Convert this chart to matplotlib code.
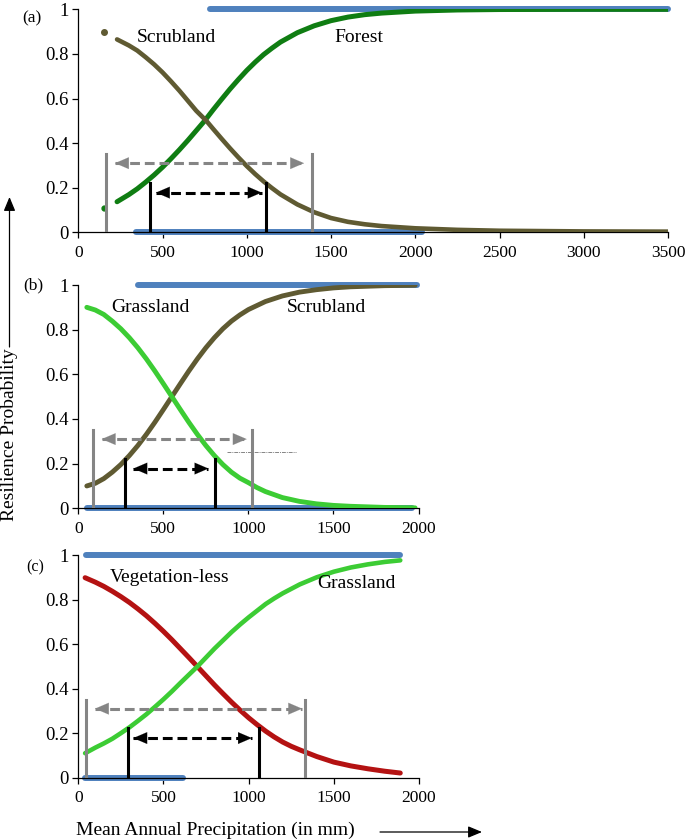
#!/usr/bin/env python3
"""Resilience probability vs mean annual precipitation, three stacked panels."""
import matplotlib
matplotlib.use("Agg")
import matplotlib.pyplot as plt

plt.rcParams["font.family"] = ["Liberation Serif", "DejaVu Serif"]

# ---- panel (a): scrubland vs forest ----
a_forest_x = [230, 300, 350, 400, 450, 500, 550, 600, 650, 700, 750, 800, 850, 900, 950,
              1000, 1050, 1100, 1150, 1200, 1300, 1400, 1500, 1600, 1700, 1800, 2000,
              2250, 2500, 3000, 3500]
a_forest_y = [0.137, 0.169, 0.195, 0.225, 0.257, 0.292, 0.330, 0.370, 0.412, 0.456, 0.50,
              0.549, 0.596, 0.642, 0.685, 0.726, 0.763, 0.797, 0.826, 0.853, 0.895, 0.926,
              0.949, 0.965, 0.976, 0.983, 0.992, 0.997, 0.999, 1.0, 1.0]
a_scrub_x = [230, 300, 350, 400, 450, 500, 550, 600, 650, 700, 760, 800, 850, 900, 950,
             1000, 1050, 1100, 1150, 1200, 1300, 1400, 1500, 1600, 1700, 1800, 2000,
             2250, 2500, 3000, 3500]
a_scrub_y = [0.865, 0.838, 0.815, 0.785, 0.753, 0.717, 0.677, 0.635, 0.590, 0.545, 0.50,
             0.464, 0.420, 0.377, 0.336, 0.297, 0.261, 0.228, 0.198, 0.170, 0.125, 0.090,
             0.064, 0.047, 0.036, 0.028, 0.018, 0.011, 0.007, 0.004, 0.003]
a_forest_dot = (150, 0.107)
a_scrub_dot = (154, 0.897)
a_obs_top = [780, 3500]
a_obs_bot = [340, 2040]
a_grey = [164, 1389]
a_black = [425, 1112]
a_grey_arrow = [218, 1340]
a_black_arrow = [461, 1088]

# ---- panel (b): grassland vs scrubland ----
b_grass_x = [50, 100, 150, 200, 250, 300, 350, 400, 450, 500, 550, 600, 650, 700, 750,
             800, 850, 900, 950, 1000, 1050, 1100, 1200, 1300, 1400, 1500, 1600, 1800, 1980]
b_grass_y = [0.90, 0.888, 0.868, 0.838, 0.804, 0.764, 0.719, 0.669, 0.615, 0.558, 0.50,
             0.442, 0.385, 0.331, 0.281, 0.236, 0.196, 0.162, 0.135, 0.115, 0.093, 0.075,
             0.048, 0.031, 0.020, 0.013, 0.009, 0.004, 0.002]
b_scrub_x = [50, 100, 150, 200, 250, 300, 350, 400, 450, 500, 550, 600, 650, 700, 750,
             800, 850, 900, 950, 1000, 1100, 1200, 1300, 1400, 1500, 1600, 1800, 1980]
b_scrub_y = [0.10, 0.112, 0.133, 0.162, 0.196, 0.236, 0.281, 0.331, 0.385, 0.442, 0.50,
             0.558, 0.615, 0.669, 0.719, 0.764, 0.804, 0.838, 0.866, 0.89, 0.926, 0.951,
             0.968, 0.979, 0.987, 0.992, 0.997, 0.999]
b_obs_top = [350, 1990]
b_obs_bot = [50, 1960]
b_grey = [84, 1020]
b_black = [275, 805]
b_grey_arrow = [138, 990]
b_black_arrow = [324, 765]
b_dashdot = [873, 1280]

# ---- panel (c): vegetation-less vs grassland ----
c_veg_x = [40, 100, 150, 200, 250, 300, 350, 400, 450, 500, 550, 600, 650, 700, 750, 800,
           850, 900, 950, 1000, 1050, 1100, 1150, 1200, 1250, 1300, 1400, 1500, 1600,
           1700, 1800, 1890]
c_veg_y = [0.898, 0.878, 0.859, 0.837, 0.813, 0.787, 0.758, 0.727, 0.693, 0.657, 0.619,
           0.579, 0.539, 0.498, 0.457, 0.416, 0.377, 0.339, 0.303, 0.269, 0.238, 0.209,
           0.183, 0.160, 0.141, 0.125, 0.095, 0.070, 0.053, 0.040, 0.029, 0.021]
c_grass_x = [40, 100, 150, 200, 250, 300, 350, 400, 450, 500, 550, 600, 650, 700, 750, 800,
             850, 900, 950, 1000, 1050, 1100, 1150, 1200, 1300, 1400, 1500, 1600, 1700,
             1800, 1890]
c_grass_y = [0.11, 0.135, 0.154, 0.175, 0.20, 0.226, 0.255, 0.285, 0.318, 0.352, 0.388,
             0.426, 0.463, 0.50, 0.54, 0.58, 0.617, 0.654, 0.688, 0.72, 0.75, 0.78, 0.805,
             0.828, 0.868, 0.90, 0.925, 0.944, 0.958, 0.969, 0.976]
c_obs_top = [45, 1890]
c_obs_bot = [40, 617]
c_grey = [45, 1330]
c_black = [290, 1063]
c_grey_arrow = [98, 1314]
c_black_arrow = [323, 1019]

BLUE = "#4f81bd"
DKGREEN = "#0f7d12"
OLIVE = "#5f5a32"
LTGREEN = "#3ccc34"
RED = "#b41212"
GREY = "#858585"

W, H = 685, 840


def fx(px):
    return px / W


def fy(py):
    return 1 - py / H


def make_axes(fig, left, top, right, bottom, xmax, xstep):
    ax = fig.add_axes([fx(left), fy(bottom), fx(right) - fx(left), fy(top) - fy(bottom)])
    ax.set_xlim(0, xmax)
    ax.set_ylim(0, 1)
    ax.set_xticks(range(0, xmax + 1, xstep))
    ax.set_yticks([0, 0.2, 0.4, 0.6, 0.8, 1])
    ax.set_yticklabels(["0", "0.2", "0.4", "0.6", "0.8", "1"])
    for s in ("top", "right"):
        ax.spines[s].set_visible(False)
    for s in ("left", "bottom"):
        ax.spines[s].set_linewidth(0.9)
    ax.tick_params(length=4, width=0.9)
    ax.tick_params(axis="y", labelsize=13.5, pad=3)
    ax.tick_params(axis="x", labelsize=12.5, pad=5)
    ax.patch.set_alpha(0)
    return ax


def obs(ax, rng, y):
    ax.plot(rng, [y, y], color=BLUE, lw=4.3, solid_capstyle="round", clip_on=False, zorder=2)


def arrow(ax, xs, y, color, lw):
    ax.plot(xs, [y, y], color=color, lw=lw, ls=(0, (3.2, 1.6)), zorder=4)
    span = xs[1] - xs[0]
    for tip, tail in ((xs[0], xs[0] + 0.06 * span), (xs[1], xs[1] - 0.06 * span)):
        ax.annotate("", xy=(tip, y), xytext=(tail, y),
                    arrowprops=dict(arrowstyle="-|>,head_length=0.7,head_width=0.3",
                                    color=color, lw=0.1, shrinkA=0, shrinkB=0,
                                    mutation_scale=14), zorder=5)


def markers(ax, grey, black, grey_arrow, black_arrow):
    for x in grey:
        ax.plot([x, x], [0, 0.35], color=GREY, lw=2.2, zorder=4)
    for x in black:
        ax.plot([x, x], [0, 0.222], color="black", lw=2.2, zorder=4)
    arrow(ax, grey_arrow, 0.31, GREY, 2.2)
    arrow(ax, black_arrow, 0.178, "black", 2.2)


fig = plt.figure(figsize=(W / 100, H / 100), dpi=100)

# (a)
ax = make_axes(fig, 78.3, 9.3, 668, 232.3, 3500, 500)
obs(ax, a_obs_top, 1)
obs(ax, a_obs_bot, 0)
ax.plot(a_forest_x, a_forest_y, color=DKGREEN, lw=3.6, solid_capstyle="round", zorder=3)
ax.plot(a_scrub_x, a_scrub_y, color=OLIVE, lw=3.3, solid_capstyle="round", zorder=3)
ax.plot(*a_forest_dot, "o", color=DKGREEN, ms=3.5, zorder=3)
ax.plot(*a_scrub_dot, "o", color=OLIVE, ms=4, zorder=3)
markers(ax, a_grey, a_black, a_grey_arrow, a_black_arrow)
fig.text(fx(22), fy(18), "(a)", fontsize=12.5, ha="left", va="center")
fig.text(fx(137), fy(37), "Scrubland", fontsize=14, ha="left", va="center")
fig.text(fx(334), fy(38), "Forest", fontsize=14, ha="left", va="center")

# (b)
ax = make_axes(fig, 78.3, 285, 418.5, 508.3, 2000, 500)
obs(ax, b_obs_top, 1)
obs(ax, b_obs_bot, 0)
ax.plot(b_scrub_x, b_scrub_y, color=OLIVE, lw=3.5, solid_capstyle="round", zorder=3)
ax.plot(b_grass_x, b_grass_y, color=LTGREEN, lw=3.5, solid_capstyle="round", zorder=3)
markers(ax, b_grey, b_black, b_grey_arrow, b_black_arrow)
ax.plot(b_dashdot, [0.253, 0.253], color=GREY, lw=0.7, ls=(0, (4, 1, 1, 1)), zorder=2)
fig.text(fx(23), fy(285), "(b)", fontsize=12.5, ha="left", va="center")
fig.text(fx(111), fy(307), "Grassland", fontsize=14, ha="left", va="center")
fig.text(fx(287), fy(307), "Scrubland", fontsize=14, ha="left", va="center")

# (c)
ax = make_axes(fig, 78.3, 555, 419, 777.7, 2000, 500)
obs(ax, c_obs_top, 1)
obs(ax, c_obs_bot, 0)
ax.plot(c_veg_x, c_veg_y, color=RED, lw=3.6, solid_capstyle="round", zorder=3)
ax.plot(c_grass_x, c_grass_y, color=LTGREEN, lw=3.3, solid_capstyle="round", zorder=3)
markers(ax, c_grey, c_black, c_grey_arrow, c_black_arrow)
fig.text(fx(26), fy(567), "(c)", fontsize=11.5, ha="left", va="center")
fig.text(fx(110), fy(577), "Vegetation-less", fontsize=14, ha="left", va="center")
fig.text(fx(317), fy(583), "Grassland", fontsize=14, ha="left", va="center")

# axis titles with arrows
fig.text(fx(10), fy(435), "Resilience Probability", fontsize=14, rotation=90,
         ha="center", va="center")
fig.add_artist(matplotlib.patches.FancyArrowPatch(
    (fx(9.5), fy(347)), (fx(9.5), fy(197)), transform=fig.transFigure,
    arrowstyle="-|>,head_length=0.6,head_width=0.25", mutation_scale=14,
    color="black", lw=0.9, shrinkA=0, shrinkB=0))
fig.text(fx(76), fy(830), "Mean Annual Precipitation (in mm)", fontsize=14,
         ha="left", va="center")
fig.add_artist(matplotlib.patches.FancyArrowPatch(
    (fx(380), fy(832)), (fx(482), fy(832)), transform=fig.transFigure,
    arrowstyle="-|>,head_length=0.6,head_width=0.25", mutation_scale=14,
    color="black", lw=0.9, shrinkA=0, shrinkB=0))

fig.savefig("out.png", dpi=100)
